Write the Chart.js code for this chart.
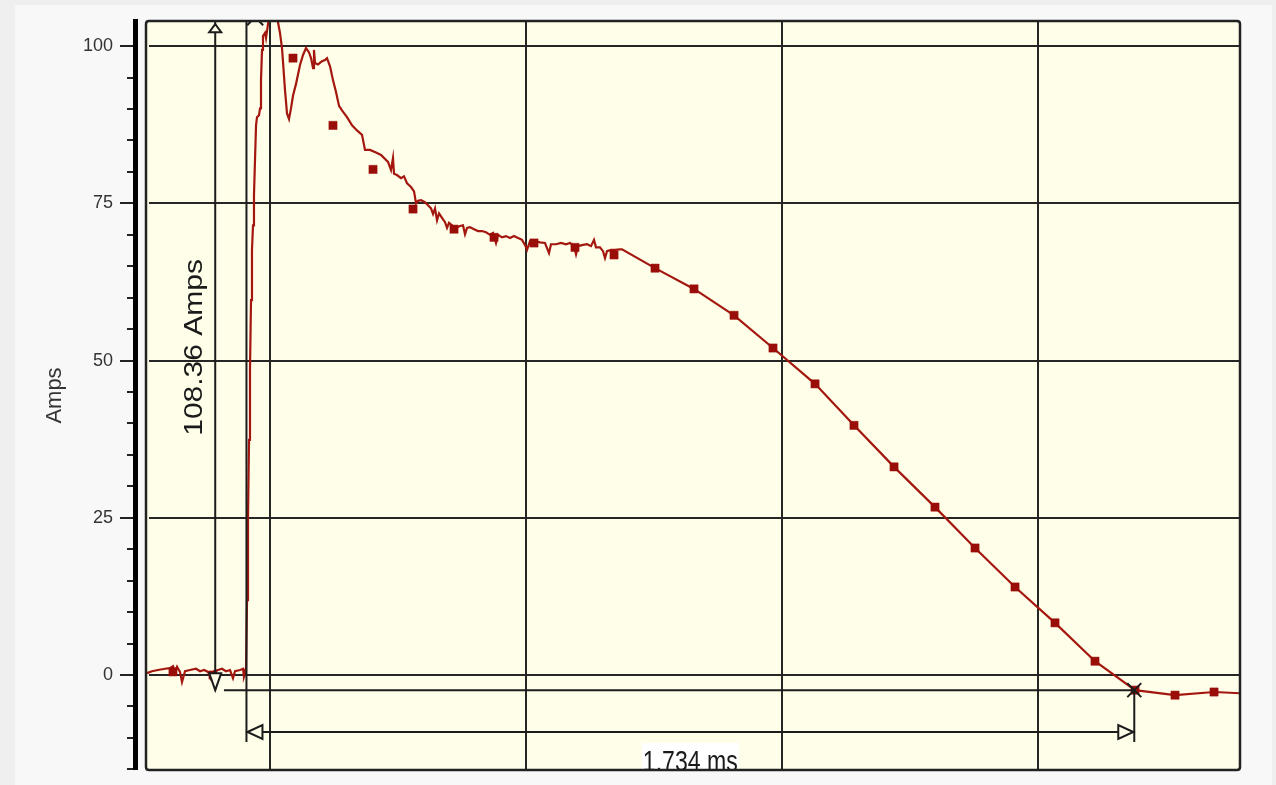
<!DOCTYPE html>
<html><head><meta charset="utf-8">
<script src="https://cdn.jsdelivr.net/npm/chart.js@4.4.0/dist/chart.umd.min.js"></script>
<style>
html,body{margin:0;padding:0;background:#efefef;width:1276px;height:785px;overflow:hidden}
#panel{position:absolute;left:15px;top:5px;width:1257px;height:790px;background:#f8f8f8}
#c{position:absolute;left:0;top:0}
</style></head><body>
<div id="panel"></div>
<canvas id="c" width="1276" height="785"></canvas>
<script>
// ---- data (time in ms, current in Amps) ----
const traceTime = [-0.2402,-0.2305,-0.2188,-0.2051,-0.1953,-0.1895,-0.1855,-0.1816,-0.1758,-0.1719,-0.1660,-0.1563,-0.1445,-0.1367,-0.1289,-0.1211,-0.1152,-0.1094,-0.1016,-0.0938,-0.0859,-0.0781,-0.0723,-0.0684,-0.0586,-0.0527,-0.0508,-0.0469,
-0.0449,-0.0430,-0.0410,-0.0391,-0.0371,-0.0352,-0.0332,-0.0313,-0.0293,-0.0273,-0.0254,-0.0215,-0.0195,-0.0176,-0.0156,-0.0137,-0.0098,-0.0078,-0.0039,
0.0000,0.0059,0.0117,0.0156,0.0195,0.0234,0.0254,0.0293,0.0332,0.0371,0.0410,0.0449,0.0508,0.0586,0.0645,0.0703,0.0762,0.0801,0.0840,0.0859,0.0879,0.0938,
0.1016,0.1074,0.1113,0.1172,0.1230,0.1289,0.1348,0.1406,0.1504,0.1602,0.1699,0.1797,0.1855,0.1953,0.2070,0.2168,0.2305,0.2363,0.2402,0.2422,0.2480,
0.2559,0.2617,0.2676,0.2754,0.2813,0.2852,0.2891,0.2949,0.3027,0.3086,0.3145,0.3184,0.3223,0.3262,0.3301,0.3359,0.3418,0.3457,0.3496,0.3574,0.3652,
0.3711,0.3770,0.3809,0.3848,0.3906,0.3984,0.4063,0.4141,0.4219,0.4297,0.4355,0.4414,0.4453,0.4531,0.4609,0.4688,0.4766,0.4844,0.4922,0.4980,0.5020,
0.5078,0.5176,0.5273,0.5371,0.5449,0.5488,0.5586,0.5684,0.5781,0.5859,0.5938,0.5977,0.6016,0.6113,0.6191,0.6270,0.6328,0.6367,0.6445,0.6504,0.6543,
0.6582,0.6660,0.6738,0.6836,0.6875,0.7520,0.8281,0.9063,0.9824,1.0645,1.1406,1.2188,1.2988,1.3770,1.4551,1.5332,1.6113,1.6895,1.7676,1.8438,1.8945];
const traceAmps = [0.3,0.6,0.8,1.0,1.1,1.4,0.5,1.3,0.5,-1.1,0.6,0.8,1.0,0.6,0.8,0.5,-0.6,0.6,0.8,1.0,0.6,0.8,-0.5,0.6,0.8,1.0,-0.3,0.6,
11.9,24.6,37.4,48.5,59.6,67.6,71.5,76.3,81.9,87.4,88.7,89.0,90.1,94.6,99.4,101.6,102.1,101.3,103.5,
105.4,106.2,105.7,103.8,102.1,99.7,97.5,93.0,89.3,88.4,90.1,92.1,94.0,97.0,98.6,99.7,99.0,98.1,96.5,99.4,97.3,97.1,
97.6,97.8,98.1,96.8,94.6,92.7,90.5,89.8,88.7,87.4,86.6,85.9,83.5,83.5,83.1,82.7,81.6,80.3,82.2,79.7,79.5,
79.0,79.3,78.2,77.6,76.9,75.0,75.4,75.5,75.2,74.7,74.2,73.3,74.2,72.3,73.4,72.7,72.0,71.1,71.9,71.4,71.2,
71.4,71.5,70.1,71.1,71.2,70.9,70.6,70.6,70.4,70.0,70.3,68.7,70.0,69.6,69.8,69.5,69.8,69.5,69.2,68.4,67.6,
69.0,69.0,68.8,68.7,67.1,68.5,68.5,68.7,68.5,68.7,68.2,66.9,68.2,68.4,68.5,68.2,69.2,68.0,68.0,67.4,66.3,
67.4,67.6,67.6,67.7,67.7,64.7,61.4,57.2,52.0,46.3,39.7,33.1,26.7,20.2,14.0,8.3,2.2,-2.4,-3.2,-2.7,-2.9];
const markerTime = [-0.1895,-0.1113,0.0449,0.1230,0.2012,0.2793,0.3594,0.4375,0.5156,0.5957,0.6719,0.7520,0.8281,0.9063,0.9824,1.0645,1.1406,1.2188,1.2988,1.3770,1.4551,1.5332,1.6113,1.6895,1.7676,1.8438];
const markerAmps = [0.5,0.0,98.1,87.4,80.4,74.1,70.9,69.6,68.7,68.0,66.8,64.7,61.4,57.2,52.0,46.3,39.7,33.1,26.7,20.2,14.0,8.3,2.2,-2.4,-3.2,-2.7];
const yMajorTicks = [0, 25, 50, 75, 100];
const yMinorStep = 5;
const xGridStep = 0.5;
const xRange = [-0.2422, 1.8945];
const yRange = [-15.1, 104];
const yTitle = 'Amps';
// measurement cursors
const ampCursor = { t: -0.107, top: 103.5, bottom: -2.4, labelAt: 52.1, label: '108.36 Amps' };
const timeCursor = { start: -0.046, end: 1.688, level: -2.4, arrowLevel: -9.06, lineBottom: -10.65, baseStart: -0.09, label: '1.734 ms' };
const peakMark = { t: -0.029, a: 104.6 };

const traceData = traceTime.map((t, i) => ({ x: t, y: traceAmps[i] }));
const markerData = markerTime.map((t, i) => ({ x: t, y: markerAmps[i] }));

const isMajor = v => yMajorTicks.some(m => Math.abs(m - v) < 1e-6);
const isMinor = v => Math.abs(v / yMinorStep - Math.round(v / yMinorStep)) < 1e-6;

function rr(ctx, x, y, w, h, r) {
  ctx.beginPath();
  ctx.moveTo(x + r, y); ctx.lineTo(x + w - r, y); ctx.quadraticCurveTo(x + w, y, x + w, y + r);
  ctx.lineTo(x + w, y + h - r); ctx.quadraticCurveTo(x + w, y + h, x + w - r, y + h);
  ctx.lineTo(x + r, y + h); ctx.quadraticCurveTo(x, y + h, x, y + h - r);
  ctx.lineTo(x, y + r); ctx.quadraticCurveTo(x, y, x + r, y); ctx.closePath();
}

const framePlugin = {
  id: 'frame',
  beforeDraw(chart) {
    const { ctx, chartArea: a } = chart;
    ctx.save();
    ctx.fillStyle = '#fffee9';
    rr(ctx, a.left, a.top, a.right - a.left, a.bottom - a.top, 3);
    ctx.fill();
    ctx.restore();
  },
  afterDatasetsDraw(chart) {
    const { ctx, chartArea: a } = chart;
    const X = v => chart.scales.x.getPixelForValue(v);
    const Y = v => chart.scales.y.getPixelForValue(v);
    ctx.save();
    ctx.beginPath(); ctx.rect(a.left, a.top, a.right - a.left, a.bottom - a.top); ctx.clip();
    ctx.strokeStyle = '#1c1c1c'; ctx.lineWidth = 2; ctx.lineJoin = 'miter';
    const line = (x1, y1, x2, y2) => { ctx.beginPath(); ctx.moveTo(x1, y1); ctx.lineTo(x2, y2); ctx.stroke(); };
    const tri = pts => { ctx.beginPath(); ctx.moveTo(pts[0][0], pts[0][1]); ctx.lineTo(pts[1][0], pts[1][1]); ctx.lineTo(pts[2][0], pts[2][1]); ctx.closePath(); ctx.fillStyle = '#fffee9'; ctx.fill(); ctx.stroke(); };
    const cross = (x, y, s) => { line(x - s, y - s, x + s, y + s); line(x - s, y + s, x + s, y - s); };

    // amplitude cursor
    const ax = X(ampCursor.t), aTop = Y(ampCursor.top), aBot = Y(ampCursor.bottom);
    line(ax, a.top, ax, aBot);
    tri([[ax, aTop], [ax - 6, aTop + 8], [ax + 6, aTop + 8]]);
    tri([[ax, aBot], [ax - 6, aBot - 17], [ax + 6, aBot - 17]]);

    // time cursor
    const sx = X(timeCursor.start), ex = X(timeCursor.end);
    const ly = Y(timeCursor.level), ay = Y(timeCursor.arrowLevel), lb = Y(timeCursor.lineBottom);
    line(sx, a.top, sx, lb);
    line(X(timeCursor.baseStart), ly, ex, ly);
    line(ex, ly, ex, lb);
    line(sx, ay, ex, ay);
    tri([[sx + 1, ay], [sx + 16, ay - 7], [sx + 16, ay + 7]]);
    tri([[ex - 1, ay], [ex - 16, ay - 7], [ex - 16, ay + 7]]);
    cross(ex, ly, 7);
    cross(X(peakMark.t), Y(peakMark.a), 8);

    // labels
    ctx.fillStyle = '#1a1a1a';
    ctx.font = '30px "Liberation Sans", Arial, sans-serif';
    ctx.textAlign = 'center'; ctx.textBaseline = 'alphabetic';
    const cx = (sx + ex) / 2;
    const tw = ctx.measureText(timeCursor.label).width * 0.77;
    ctx.save();
    ctx.fillStyle = '#ffffff';
    ctx.fillRect(cx - tw / 2 - 1, a.bottom - 27, tw + 2, 27);
    ctx.restore();
    ctx.save();
    ctx.translate(cx, a.bottom + 0.5);
    ctx.scale(0.77, 1);
    ctx.fillText(timeCursor.label, 0, 0);
    ctx.restore();
    ctx.save();
    ctx.translate(ax - 13, Y(ampCursor.labelAt));
    ctx.scale(0.84, 1);
    ctx.rotate(-Math.PI / 2);
    ctx.fillText(ampCursor.label, 0, 0);
    ctx.restore();
    ctx.restore();
  },
  afterDraw(chart) {
    const { ctx, chartArea: a } = chart;
    ctx.save();
    ctx.strokeStyle = '#222';
    ctx.lineWidth = 2.5;
    rr(ctx, a.left, a.top, a.right - a.left, a.bottom - a.top, 3);
    ctx.stroke();
    ctx.restore();
  }
};

new Chart(document.getElementById('c'), {
  type: 'line',
  data: {
    datasets: [
      {
        label: 'samples', data: markerData, showLine: false,
        pointStyle: 'rect', pointRadius: 5.8, pointHoverRadius: 5.8,
        pointBackgroundColor: '#9a0e0a', pointBorderColor: '#9a0e0a', pointBorderWidth: 0.5,
        xAxisID: 'x', yAxisID: 'y'
      },
      {
        label: 'current', data: traceData, borderColor: '#a3170f', borderWidth: 2.2,
        pointRadius: 0, tension: 0, fill: false,
        xAxisID: 'x', yAxisID: 'y'
      }
    ]
  },
  options: {
    responsive: false,
    animation: false,
    devicePixelRatio: 1,
    layout: { padding: { left: 0, top: 21, right: 36, bottom: 15 } },
    plugins: { legend: { display: false }, tooltip: { enabled: false } },
    scales: {
      x: {
        type: 'linear', position: 'bottom', min: xRange[0], max: xRange[1],
        ticks: { display: false, stepSize: xGridStep, includeBounds: false },
        grid: { color: '#262626', lineWidth: 2, drawTicks: false },
        border: { display: false },
        afterFit: s => { s.height = 0; }
      },
      y: {
        type: 'linear', position: 'left', weight: 10, min: yRange[0], max: yRange[1],
        ticks: {
          stepSize: yMinorStep, includeBounds: false, padding: 7,
          color: '#333', font: { family: '"Liberation Sans", Arial, sans-serif', size: 18, lineHeight: 0.8 },
          callback: v => isMajor(v) ? String(Math.round(v)) : ''
        },
        grid: {
          drawTicks: true, tickLength: 15,
          color: c => isMajor(c.tick.value) ? '#262626' : 'rgba(0,0,0,0)',
          lineWidth: c => isMajor(c.tick.value) ? 2 : 0,
          tickWidth: 2,
          tickColor: c => isMinor(c.tick.value) ? '#222' : 'rgba(0,0,0,0)',
          tickBorderDash: c => isMajor(c.tick.value) ? [] : [0, 7, 7, 100]
        },
        border: { display: true, color: '#000', width: 5 },
        title: { display: true, text: yTitle, color: '#333', font: { family: '"Liberation Sans", Arial, sans-serif', size: 22 }, padding: { top: 42, bottom: 0 } },
        afterFit: s => { s.width = 135; }
      },
      yGap: {
        type: 'linear', position: 'left', weight: 0, min: yRange[0], max: yRange[1],
        ticks: { display: false }, grid: { display: false, drawTicks: false }, border: { display: false },
        afterFit: s => { s.width = 11; }
      }
    }
  },
  plugins: [framePlugin]
});
</script>
</body></html>
